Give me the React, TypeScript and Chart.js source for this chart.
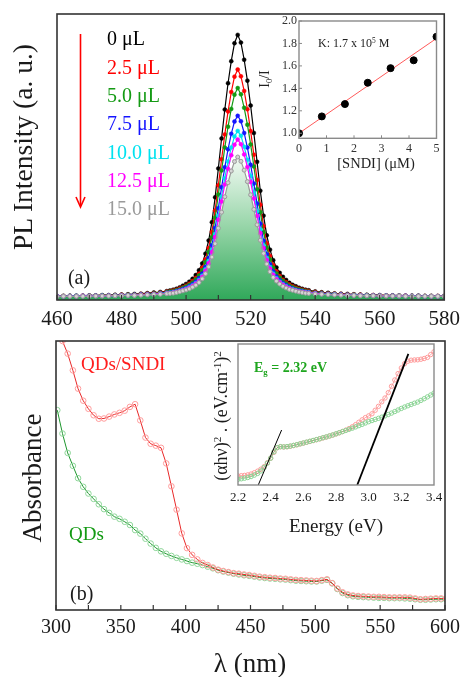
import React, { useEffect, useRef } from 'react';
import { Chart, registerables } from 'chart.js';

Chart.register(...registerables);

const SERIF = "'Liberation Serif', 'Times New Roman', Times, serif";

// ---------------- Panel (a): PL spectra ----------------
const plWavelength = [
  460, 462, 464, 466, 468, 470, 472, 474, 476, 478, 480, 482, 484, 486, 488, 490, 492, 494,
  495, 496, 497, 498, 499, 500, 501, 502, 503, 504, 505, 506, 507, 508, 509, 510, 511, 512, 513, 514, 515,
  516, 517, 518, 519, 520, 521, 522, 523, 524, 525, 526, 527, 528, 529, 530, 531, 532, 533, 534, 535, 536, 537,
  538, 540, 542, 544, 546, 548, 550, 552, 554, 556, 558, 560, 562, 564, 566, 568, 570, 572, 574, 576, 578, 580,
];
const plDoses = ['0 μL', '2.5 μL', '5.0 μL', '7.5 μL', '10.0 μL', '12.5 μL', '15.0 μL'];
const pl0 = [
  0.014, 0.014, 0.015, 0.015, 0.015, 0.016, 0.016, 0.017, 0.017, 0.018, 0.019, 0.020, 0.021, 0.022, 0.024, 0.026, 0.028, 0.031,
  0.033, 0.036, 0.039, 0.044, 0.050, 0.056, 0.064, 0.074, 0.087, 0.104, 0.128, 0.162, 0.208, 0.272, 0.359, 0.460, 0.565, 0.666, 0.758, 0.835, 0.898,
  0.927, 0.900, 0.840, 0.767, 0.680, 0.584, 0.483, 0.382, 0.295, 0.226, 0.176, 0.139, 0.114, 0.095, 0.081, 0.070, 0.060, 0.053, 0.048, 0.043, 0.039, 0.036,
  0.034, 0.030, 0.027, 0.025, 0.023, 0.022, 0.021, 0.020, 0.019, 0.018, 0.017, 0.017, 0.016, 0.016, 0.016, 0.015, 0.015, 0.015, 0.014, 0.014, 0.014, 0.014,
];
const pl25 = [
  0.013, 0.014, 0.014, 0.014, 0.015, 0.015, 0.015, 0.016, 0.016, 0.017, 0.018, 0.018, 0.019, 0.021, 0.022, 0.024, 0.026, 0.029,
  0.030, 0.033, 0.036, 0.040, 0.044, 0.050, 0.057, 0.066, 0.077, 0.092, 0.113, 0.142, 0.182, 0.238, 0.313, 0.401, 0.492, 0.579, 0.659, 0.727, 0.781,
  0.806, 0.782, 0.731, 0.667, 0.591, 0.508, 0.420, 0.333, 0.258, 0.198, 0.154, 0.122, 0.100, 0.084, 0.071, 0.062, 0.054, 0.048, 0.043, 0.039, 0.036, 0.033,
  0.031, 0.028, 0.025, 0.023, 0.022, 0.021, 0.020, 0.019, 0.018, 0.017, 0.017, 0.016, 0.016, 0.015, 0.015, 0.015, 0.015, 0.014, 0.014, 0.014, 0.014, 0.014,
];
const pl50 = [
  0.013, 0.014, 0.014, 0.014, 0.014, 0.015, 0.015, 0.016, 0.016, 0.017, 0.017, 0.018, 0.019, 0.020, 0.021, 0.023, 0.025, 0.027,
  0.029, 0.031, 0.034, 0.037, 0.042, 0.047, 0.053, 0.061, 0.072, 0.086, 0.104, 0.132, 0.168, 0.219, 0.288, 0.369, 0.453, 0.533, 0.606, 0.668, 0.718,
  0.741, 0.719, 0.672, 0.613, 0.544, 0.467, 0.387, 0.307, 0.237, 0.183, 0.142, 0.113, 0.093, 0.078, 0.067, 0.058, 0.050, 0.045, 0.040, 0.037, 0.034, 0.031,
  0.029, 0.026, 0.024, 0.022, 0.021, 0.020, 0.019, 0.018, 0.017, 0.017, 0.016, 0.016, 0.015, 0.015, 0.015, 0.014, 0.014, 0.014, 0.014, 0.014, 0.013, 0.013,
];
const pl75 = [
  0.013, 0.013, 0.014, 0.014, 0.014, 0.014, 0.015, 0.015, 0.015, 0.016, 0.016, 0.017, 0.018, 0.019, 0.020, 0.021, 0.023, 0.025,
  0.026, 0.028, 0.031, 0.034, 0.038, 0.042, 0.048, 0.055, 0.064, 0.076, 0.092, 0.115, 0.147, 0.191, 0.252, 0.321, 0.394, 0.464, 0.527, 0.581, 0.624,
  0.644, 0.625, 0.584, 0.533, 0.473, 0.407, 0.337, 0.267, 0.207, 0.160, 0.125, 0.100, 0.082, 0.069, 0.059, 0.052, 0.045, 0.040, 0.036, 0.033, 0.031, 0.028,
  0.027, 0.024, 0.022, 0.021, 0.020, 0.019, 0.018, 0.017, 0.016, 0.016, 0.016, 0.015, 0.015, 0.015, 0.014, 0.014, 0.014, 0.014, 0.013, 0.013, 0.013, 0.013,
];
const pl100 = [
  0.013, 0.013, 0.013, 0.014, 0.014, 0.014, 0.014, 0.015, 0.015, 0.015, 0.016, 0.016, 0.017, 0.018, 0.019, 0.020, 0.022, 0.024,
  0.025, 0.027, 0.029, 0.032, 0.035, 0.039, 0.045, 0.051, 0.059, 0.070, 0.085, 0.107, 0.136, 0.176, 0.231, 0.295, 0.362, 0.426, 0.484, 0.533, 0.572,
  0.591, 0.574, 0.536, 0.490, 0.434, 0.374, 0.310, 0.246, 0.191, 0.147, 0.115, 0.092, 0.076, 0.064, 0.055, 0.048, 0.042, 0.038, 0.034, 0.031, 0.029, 0.027,
  0.026, 0.023, 0.021, 0.020, 0.019, 0.018, 0.017, 0.017, 0.016, 0.016, 0.015, 0.015, 0.015, 0.014, 0.014, 0.014, 0.014, 0.013, 0.013, 0.013, 0.013, 0.013,
];
const pl125 = [
  0.013, 0.013, 0.013, 0.013, 0.014, 0.014, 0.014, 0.014, 0.015, 0.015, 0.016, 0.016, 0.017, 0.018, 0.019, 0.020, 0.022, 0.023,
  0.024, 0.026, 0.028, 0.031, 0.034, 0.038, 0.043, 0.049, 0.057, 0.067, 0.081, 0.102, 0.129, 0.168, 0.220, 0.281, 0.344, 0.404, 0.459, 0.506, 0.543,
  0.561, 0.545, 0.509, 0.465, 0.413, 0.355, 0.294, 0.234, 0.182, 0.140, 0.110, 0.088, 0.073, 0.062, 0.053, 0.046, 0.041, 0.036, 0.033, 0.030, 0.028, 0.026,
  0.025, 0.023, 0.021, 0.020, 0.018, 0.018, 0.017, 0.016, 0.016, 0.015, 0.015, 0.015, 0.014, 0.014, 0.014, 0.014, 0.013, 0.013, 0.013, 0.013, 0.013, 0.013,
];
const pl150 = [
  0.012, 0.013, 0.013, 0.013, 0.013, 0.013, 0.014, 0.014, 0.014, 0.015, 0.015, 0.016, 0.016, 0.017, 0.018, 0.019, 0.020, 0.022,
  0.023, 0.024, 0.026, 0.029, 0.032, 0.035, 0.039, 0.045, 0.052, 0.061, 0.074, 0.092, 0.116, 0.150, 0.197, 0.251, 0.307, 0.361, 0.410, 0.451, 0.484,
  0.500, 0.485, 0.454, 0.414, 0.368, 0.317, 0.263, 0.209, 0.163, 0.126, 0.099, 0.079, 0.066, 0.056, 0.048, 0.042, 0.037, 0.034, 0.031, 0.028, 0.026, 0.024,
  0.023, 0.021, 0.020, 0.019, 0.018, 0.017, 0.016, 0.016, 0.015, 0.015, 0.015, 0.014, 0.014, 0.014, 0.014, 0.013, 0.013, 0.013, 0.013, 0.013, 0.013, 0.013,
];
const plSeries = [pl0, pl25, pl50, pl75, pl100, pl125, pl150];
const plColors = ['#000000', '#ff0000', '#149a14', '#1414ff', '#00e2f0', '#ff00ff', '#9a9a9a'];

// ---------------- Inset (a): Stern-Volmer ----------------
const sndiConc = [0, 0.83, 1.67, 2.5, 3.33, 4.17, 5];
const i0OverI = [1.0, 1.15, 1.26, 1.45, 1.58, 1.65, 1.86];
const fitConc = [0, 5];
const fitI0OverI = [1.0, 1.845];
const insetATicksY = [1.0, 1.2, 1.4, 1.6, 1.8, 2.0];

// ---------------- Panel (b): absorbance ----------------
const absLambdaSndi = [
  305, 309, 313, 317, 321, 325, 329, 333, 337, 341, 345, 349, 353, 357, 361, 365, 369, 373, 377, 381,
  385, 389, 393, 397, 401, 405, 409, 413, 417, 421, 425, 429, 433, 437, 441, 445, 449, 453, 457, 461,
  465, 469, 473, 477, 481, 485, 489, 493, 497, 501, 505, 509, 513, 517, 521, 525, 529, 533, 537, 541,
  545, 549, 553, 557, 561, 565, 569, 573, 577, 581, 585, 589, 593, 597, 601,
];
const absSndi = [
  1.0, 0.953, 0.891, 0.823, 0.778, 0.748, 0.724, 0.711, 0.712, 0.719, 0.727, 0.733, 0.741, 0.755, 0.765, 0.705, 0.641, 0.618, 0.611, 0.603,
  0.545, 0.46, 0.373, 0.285, 0.23, 0.205, 0.188, 0.175, 0.167, 0.158, 0.150, 0.145, 0.141, 0.137, 0.135, 0.132, 0.130, 0.127, 0.124, 0.122,
  0.120, 0.119, 0.117, 0.116, 0.114, 0.112, 0.111, 0.110, 0.109, 0.108, 0.111, 0.114, 0.100, 0.080, 0.066, 0.058, 0.054, 0.052, 0.051, 0.050,
  0.049, 0.049, 0.048, 0.047, 0.047, 0.047, 0.047, 0.046, 0.043, 0.040, 0.041, 0.042, 0.043, 0.043, 0.043,
];
const absLambdaQd = [
  301, 305, 309, 313, 317, 321, 325, 329, 333, 337, 341, 345, 349, 353, 357, 361, 365, 369, 373, 377,
  381, 385, 389, 393, 397, 401, 405, 409, 413, 417, 421, 425, 429, 433, 437, 441, 445, 449, 453, 457,
  461, 465, 469, 473, 477, 481, 485, 489, 493, 497, 501, 505, 509, 513, 517, 521, 525, 529, 533, 537,
  541, 545, 549, 553, 557, 561, 565, 569, 573, 577, 581, 585, 589, 593, 597, 601,
];
const absQd = [
  0.743, 0.656, 0.584, 0.536, 0.490, 0.458, 0.433, 0.413, 0.393, 0.375, 0.361, 0.347, 0.339, 0.328, 0.316, 0.297, 0.284, 0.265, 0.247, 0.231,
  0.218, 0.209, 0.201, 0.194, 0.188, 0.182, 0.176, 0.172, 0.167, 0.161, 0.155, 0.148, 0.143, 0.139, 0.135, 0.132, 0.129, 0.127, 0.124, 0.121,
  0.119, 0.117, 0.116, 0.114, 0.113, 0.111, 0.109, 0.108, 0.107, 0.106, 0.106, 0.109, 0.112, 0.099, 0.078, 0.063, 0.055, 0.051, 0.049, 0.048,
  0.047, 0.046, 0.045, 0.045, 0.044, 0.044, 0.044, 0.043, 0.042, 0.040, 0.038, 0.038, 0.039, 0.040, 0.040, 0.040,
];

// ---------------- Inset (b): Tauc plot ----------------
const energy = [
  2.20, 2.22, 2.24, 2.26, 2.28, 2.30, 2.32, 2.34, 2.36, 2.38, 2.40, 2.42, 2.44, 2.46, 2.48, 2.50, 2.52, 2.54, 2.56, 2.58,
  2.60, 2.62, 2.64, 2.66, 2.68, 2.70, 2.72, 2.74, 2.76, 2.78, 2.80, 2.82, 2.84, 2.86, 2.88, 2.90, 2.92, 2.94, 2.96, 2.98,
  3.00, 3.02, 3.04, 3.06, 3.08, 3.10, 3.12, 3.14, 3.16, 3.18, 3.20, 3.22, 3.24, 3.26, 3.28, 3.30, 3.32, 3.34, 3.36, 3.38, 3.40,
];
const taucQd = [
  0.040, 0.044, 0.048, 0.053, 0.060, 0.070, 0.082, 0.100, 0.125, 0.155, 0.190, 0.235, 0.265, 0.272, 0.270, 0.272, 0.276, 0.281, 0.286, 0.292,
  0.298, 0.304, 0.310, 0.316, 0.322, 0.328, 0.335, 0.341, 0.348, 0.355, 0.363, 0.371, 0.379, 0.387, 0.395, 0.403, 0.412, 0.421, 0.430, 0.440,
  0.449, 0.457, 0.465, 0.473, 0.481, 0.490, 0.500, 0.510, 0.521, 0.532, 0.543, 0.553, 0.562, 0.571, 0.580, 0.588, 0.600, 0.612, 0.625, 0.638, 0.652,
];
const taucSndi = [
  0.064, 0.066, 0.068, 0.072, 0.078, 0.087, 0.098, 0.112, 0.130, 0.158, 0.190, 0.232, 0.264, 0.271, 0.270, 0.271, 0.275, 0.280, 0.285, 0.291,
  0.297, 0.303, 0.309, 0.315, 0.321, 0.327, 0.334, 0.340, 0.347, 0.354, 0.362, 0.370, 0.379, 0.389, 0.400, 0.413, 0.428, 0.445, 0.462, 0.478,
  0.490, 0.505, 0.530, 0.558, 0.590, 0.617, 0.655, 0.700, 0.745, 0.790, 0.830, 0.860, 0.878, 0.885, 0.887, 0.888, 0.892, 0.897, 0.905, 0.925, 0.945,
];
const tangentQdE = [2.324, 2.467];
const tangentQdY = [0, 0.39];
const tangentSndiE = [2.93, 3.243];
const tangentSndiY = [0, 0.93];

// ---------------- helpers ----------------
const pts = (xs: number[], ys: number[]) => xs.map((x, i) => ({ x, y: ys[i] }));

const framePlugin: any = {
  id: 'frame',
  beforeDraw(chart: any, _a: any, opts: any) {
    if (!opts || !opts.fill) return;
    const { ctx, chartArea: a } = chart;
    ctx.save();
    ctx.fillStyle = opts.fill;
    ctx.fillRect(a.left, a.top, a.right - a.left, a.bottom - a.top);
    ctx.restore();
  },
  afterDraw(chart: any, _a: any, opts: any) {
    if (!opts || !opts.color) return;
    const { ctx, chartArea: a } = chart;
    ctx.save();
    ctx.strokeStyle = opts.color;
    ctx.lineWidth = opts.tickWidth || 1;
    if (opts.xTick) {
      const s = chart.scales.x;
      s.ticks.forEach((t: any) => {
        const p = s.getPixelForValue(t.value);
        ctx.beginPath();
        ctx.moveTo(p, a.bottom);
        ctx.lineTo(p, a.bottom - opts.xTick);
        ctx.stroke();
      });
    }
    if (opts.yTick) {
      const s = chart.scales.y;
      s.ticks.forEach((t: any) => {
        const p = s.getPixelForValue(t.value);
        ctx.beginPath();
        ctx.moveTo(a.left, p);
        ctx.lineTo(a.left + opts.yTick, p);
        ctx.stroke();
      });
    }
    ctx.lineWidth = opts.width;
    ctx.strokeRect(a.left, a.top, a.right - a.left, a.bottom - a.top);
    ctx.restore();
  },
};

function ChartBox({ left, top, width, height, make }: any) {
  const ref = useRef<HTMLCanvasElement>(null);
  useEffect(() => {
    const chart = new Chart(ref.current as HTMLCanvasElement, make());
    return () => chart.destroy();
  }, []);
  return (
    <div style={{ position: 'absolute', left, top, width, height }}>
      <canvas ref={ref} width={width} height={height} style={{ width, height, display: 'block' }} />
    </div>
  );
}

function Txt({ x, y, size, color = '#1a1a1a', anchor = 'center', rotate = false, bold = false, children }: any) {
  const tx = anchor === 'left' ? '0' : '-50%';
  return (
    <div
      style={{
        position: 'absolute',
        left: x,
        top: y,
        transform: `translate(${tx}, -50%)${rotate ? ' rotate(-90deg)' : ''}`,
        transformOrigin: anchor === 'left' ? 'left center' : 'center center',
        fontFamily: SERIF,
        fontSize: size,
        fontWeight: bold ? 'bold' : 'normal',
        color,
        whiteSpace: 'nowrap',
        lineHeight: 1,
      }}
    >
      {children}
    </div>
  );
}

const sup = (t: string) => <span style={{ fontSize: '0.62em', verticalAlign: '0.6em' }}>{t}</span>;
const sub = (t: string) => <span style={{ fontSize: '0.62em', verticalAlign: '-0.3em' }}>{t}</span>;

const baseOpts = {
  responsive: false,
  animation: false,
  devicePixelRatio: 1,
  events: [],
};

function makePL() {
  const datasets = plSeries.map((vals, i) => {
    const gray = i === plSeries.length - 1;
    return {
      label: plDoses[i],
      data: pts(plWavelength, vals),
      borderColor: plColors[i],
      borderWidth: 1.2,
      pointRadius: 2,
      pointBorderWidth: gray ? 1 : 0.5,
      pointBorderColor: plColors[i],
      pointBackgroundColor: gray ? '#d4d4d4' : plColors[i],
      fill: gray ? 'origin' : false,
      backgroundColor: gray
        ? (ctx: any) => {
            const chart = ctx.chart;
            const area = chart.chartArea;
            if (!area) return 'rgba(0,0,0,0)';
            const yTop = chart.scales.y.getPixelForValue(Math.max(...pl150));
            const g = chart.ctx.createLinearGradient(0, area.bottom, 0, yTop);
            g.addColorStop(0, '#30a85a');
            g.addColorStop(0.5, '#94d4a6');
            g.addColorStop(1, '#f3faf4');
            return g;
          }
        : 'rgba(0,0,0,0)',
      order: plSeries.length - i,
      tension: 0,
    };
  });
  return {
    type: 'line',
    data: { datasets },
    options: {
      ...baseOpts,
      layout: { padding: { left: 57, top: 14, right: 18, bottom: 0 } },
      plugins: {
        legend: { display: false },
        tooltip: { enabled: false },
        filler: { drawTime: 'beforeDatasetsDraw' },
        frame: { color: '#333', width: 1.6, xTick: 5, tickWidth: 1.2 },
      },
      scales: {
        x: {
          type: 'linear',
          min: 460,
          max: 580,
          grid: { display: false, drawTicks: false },
          border: { display: false },
          ticks: {
            stepSize: 10,
            autoSkip: false,
            maxRotation: 0,
            padding: 7,
            color: '#1a1a1a',
            font: { family: SERIF, size: 21 },
            callback: (v: number) => (v % 20 === 0 ? String(v) : ''),
          },
          afterFit: (s: any) => { s.height = 40; },
        },
        y: { display: false, min: 0, max: 1 },
      },
    },
    plugins: [framePlugin],
  };
}

function makeSV() {
  return {
    type: 'line',
    data: {
      datasets: [
        {
          data: pts(sndiConc, i0OverI),
          showLine: false,
          pointRadius: 3.5,
          pointBackgroundColor: '#000',
          pointBorderColor: '#000',
          order: 0,
        },
        {
          data: pts(fitConc, fitI0OverI),
          borderColor: '#ff5a5a',
          borderWidth: 1,
          pointRadius: 0,
          order: 1,
        },
      ],
    },
    options: {
      ...baseOpts,
      layout: { padding: { left: 0, top: 13, right: 13.5, bottom: 0 } },
      plugins: {
        legend: { display: false },
        tooltip: { enabled: false },
        frame: { color: '#8a8a8a', width: 1.4, xTick: 3, yTick: 3, fill: '#ffffff' },
      },
      scales: {
        x: {
          type: 'linear',
          min: 0,
          max: 5,
          grid: { display: false, drawTicks: false },
          border: { display: false },
          ticks: { stepSize: 1, padding: 3, color: '#333', font: { family: SERIF, size: 12 } },
          afterFit: (s: any) => { s.height = 19.7; },
        },
        y: {
          type: 'linear',
          min: 0.955,
          max: 2.0,
          grid: { display: false, drawTicks: false },
          border: { display: false },
          afterBuildTicks: (s: any) => { s.ticks = insetATicksY.map((v) => ({ value: v })); },
          ticks: { padding: 2, color: '#333', font: { family: SERIF, size: 12 }, callback: (v: number) => v.toFixed(1) },
          afterFit: (s: any) => { s.width = 19; },
        },
      },
    },
    plugins: [framePlugin],
  };
}

function makeAbs() {
  return {
    type: 'line',
    data: {
      datasets: [
        {
          data: pts(absLambdaSndi, absSndi),
          borderColor: '#e82828',
          borderWidth: 1,
          pointRadius: 2.8,
          pointBorderWidth: 1,
          pointBorderColor: '#ff9c9c',
          pointBackgroundColor: 'rgba(255,255,255,0)',
          order: 0,
        },
        {
          data: pts(absLambdaQd, absQd),
          borderColor: '#1e962e',
          borderWidth: 1,
          pointRadius: 2.8,
          pointBorderWidth: 1,
          pointBorderColor: '#8fd69a',
          pointBackgroundColor: 'rgba(255,255,255,0)',
          order: 1,
        },
      ],
    },
    options: {
      ...baseOpts,
      layout: { padding: { left: 56, top: 11, right: 22, bottom: 0 } },
      plugins: {
        legend: { display: false },
        tooltip: { enabled: false },
        frame: { color: '#333', width: 1.6, xTick: 5, tickWidth: 1.2 },
      },
      scales: {
        x: {
          type: 'linear',
          min: 300,
          max: 600,
          grid: { display: false, drawTicks: false },
          border: { display: false },
          ticks: {
            stepSize: 25,
            autoSkip: false,
            maxRotation: 0,
            padding: 6,
            color: '#1a1a1a',
            font: { family: SERIF, size: 20 },
            callback: (v: number) => (v % 50 === 0 ? String(v) : ''),
          },
          afterFit: (s: any) => { s.height = 67; },
        },
        y: { display: false, min: 0, max: 1 },
      },
    },
    plugins: [framePlugin],
  };
}

function makeTauc() {
  return {
    type: 'line',
    data: {
      datasets: [
        {
          data: pts(tangentSndiE, tangentSndiY),
          borderColor: '#000',
          borderWidth: 1.8,
          pointRadius: 0,
          order: 0,
        },
        {
          data: pts(tangentQdE, tangentQdY),
          borderColor: '#000',
          borderWidth: 1,
          pointRadius: 0,
          order: 1,
        },
        {
          data: pts(energy, taucQd),
          borderColor: 'rgba(40,160,60,0.55)',
          borderWidth: 0.8,
          pointRadius: 2.2,
          pointBorderWidth: 1,
          pointBorderColor: '#8cd696',
          pointBackgroundColor: 'rgba(255,255,255,0)',
          order: 2,
        },
        {
          data: pts(energy, taucSndi),
          borderColor: 'rgba(230,60,60,0.55)',
          borderWidth: 0.8,
          pointRadius: 2.2,
          pointBorderWidth: 1,
          pointBorderColor: '#ff9c9c',
          pointBackgroundColor: 'rgba(255,255,255,0)',
          order: 3,
        },
      ],
    },
    options: {
      ...baseOpts,
      layout: { padding: { left: 38, top: 9, right: 16, bottom: 0 } },
      plugins: {
        legend: { display: false },
        tooltip: { enabled: false },
        frame: { color: '#8a8a8a', width: 1.4, fill: '#ffffff' },
      },
      scales: {
        x: {
          type: 'linear',
          min: 2.2,
          max: 3.4,
          grid: { display: false, drawTicks: false },
          border: { display: false },
          ticks: {
            stepSize: 0.2,
            autoSkip: false,
            maxRotation: 0,
            padding: 5,
            color: '#1a1a1a',
            font: { family: SERIF, size: 13 },
            callback: (v: number) => v.toFixed(1),
          },
          afterFit: (s: any) => { s.height = 50; },
        },
        y: { display: false, min: 0, max: 1 },
      },
    },
    plugins: [framePlugin],
  };
}

const legendY = [38, 67, 95, 123, 152, 180, 208];

export default function App() {
  return (
    <div style={{ position: 'fixed', left: 0, top: 0, width: 467, height: 677, background: '#fff', overflow: 'hidden' }}>
      <ChartBox left={0} top={0} width={467} height={340} make={makePL} />
      <ChartBox left={0} top={330} width={467} height={347} make={makeAbs} />
      <ChartBox left={280} top={8} width={170} height={150} make={makeSV} />
      <ChartBox left={200} top={335} width={250} height={200} make={makeTauc} />

      <svg style={{ position: 'absolute', left: 0, top: 0 }} width={467} height={677}>
        <line x1={80.5} y1={34} x2={80.5} y2={206} stroke="#ff0000" strokeWidth={1.6} />
        <polyline points="76,197 80.5,207 85,197" fill="none" stroke="#ff0000" strokeWidth={1.6} />
      </svg>

      {/* Panel (a) text */}
      <Txt x={23} y={147} size={27.5} rotate>PL Intensity (a. u.)</Txt>
      {plDoses.map((d, i) => (
        <Txt key={d} x={107} y={legendY[i]} size={20} color={plColors[i]} anchor="left">{d}</Txt>
      ))}
      <Txt x={79} y={277} size={20}>(a)</Txt>

      {/* Inset (a) text */}
      <Txt x={318} y={43} size={12} anchor="left" color="#222">K: 1.7 x 10{sup('5')} M</Txt>
      <Txt x={376} y={163} size={14.5} color="#222">[SNDI] (μM)</Txt>
      <Txt x={266} y={79} size={14} rotate color="#222">I{sub('0')}/I</Txt>

      {/* Panel (b) text */}
      <Txt x={32} y={478} size={27} rotate>Absorbance</Txt>
      <Txt x={250} y={663} size={27}>λ (nm)</Txt>
      <Txt x={81} y={363} size={19} color="#ff1e1e" anchor="left">QDs/SNDI</Txt>
      <Txt x={69} y={533} size={19} color="#149a14" anchor="left">QDs</Txt>
      <Txt x={70} y={593} size={20} anchor="left">(b)</Txt>

      {/* Inset (b) text */}
      <Txt x={336} y={525} size={19}>Energy (eV)</Txt>
      <Txt x={221} y={416} size={18} rotate>
        (αhν){sup('2')} . (eV.cm{sup('-1')}){sup('2')}
      </Txt>
      <Txt x={254} y={369} size={14} bold color="#1fa61f" anchor="left">
        E{sub('g')} = 2.32 eV
      </Txt>
    </div>
  );
}
